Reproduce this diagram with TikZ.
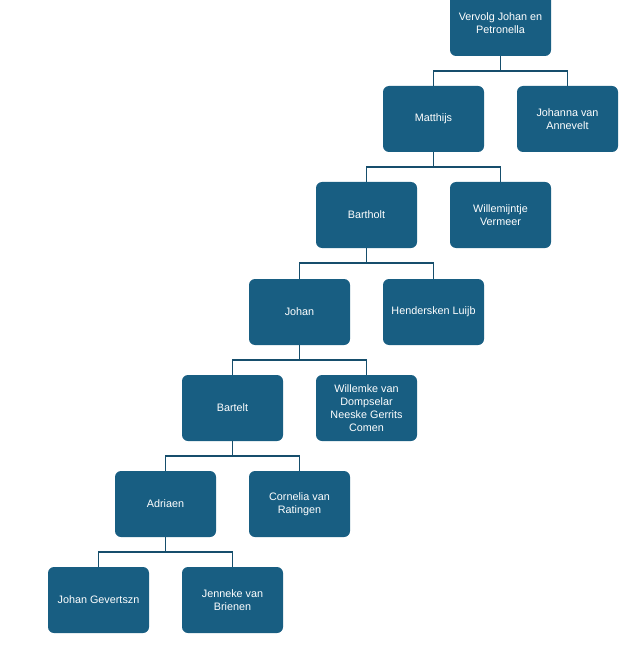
\documentclass[tikz,border=0pt]{standalone}
\usepackage{fontspec}
\setmainfont{Liberation Sans}
\definecolor{boxfill}{RGB}{24,94,130}
\definecolor{linecol}{RGB}{22,78,108}
\begin{document}
\begin{tikzpicture}[x=1pt,y=-1pt,
  person/.style={draw=none,fill=boxfill,rounded corners=6pt,minimum width=101pt,minimum height=66pt,
    text=white,align=center,font=\fontsize{10.8}{13}\selectfont,inner sep=2pt},
  conn/.style={draw=linecol,line width=1.8pt}]
\useasboundingbox (0,0) rectangle (637,652);
\node[person] (v) at (500.5,23) {Vervolg Johan en\\Petronella};
\node[person] (m) at (433.5,119) {Matthijs};
\node[person] (ja) at (567.5,119) {Johanna van\\Annevelt};
\node[person] (b) at (366.5,215) {Bartholt};
\node[person] (w) at (500.5,215) {Willemijntje\\Vermeer};
\node[person] (j) at (299.5,312) {Johan};
\node[person] (h) at (433.5,312) {Hendersken Luijb};
\node[person] (bt) at (232.5,408) {Bartelt};
\node[person] (wv) at (366.5,408) {Willemke van\\Dompselar\\Neeske Gerrits\\Comen};
\node[person] (a) at (165.5,504) {Adriaen};
\node[person] (c) at (299.5,504) {Cornelia van\\Ratingen};
\node[person] (jg) at (98.5,600) {Johan Gevertszn};
\node[person] (jb) at (232.5,600) {Jenneke van\\Brienen};
\foreach \p/\l/\r in {v/m/ja, m/b/w, b/j/h, j/bt/wv, bt/a/c, a/jg/jb}{
  \draw[conn] (\p.south) -- ++(0,15) coordinate (\p h);
  \draw[conn] (\l.north) -- (\l.north |- \p h) -- (\r.north |- \p h) -- (\r.north);
}
\end{tikzpicture}
\end{document}
